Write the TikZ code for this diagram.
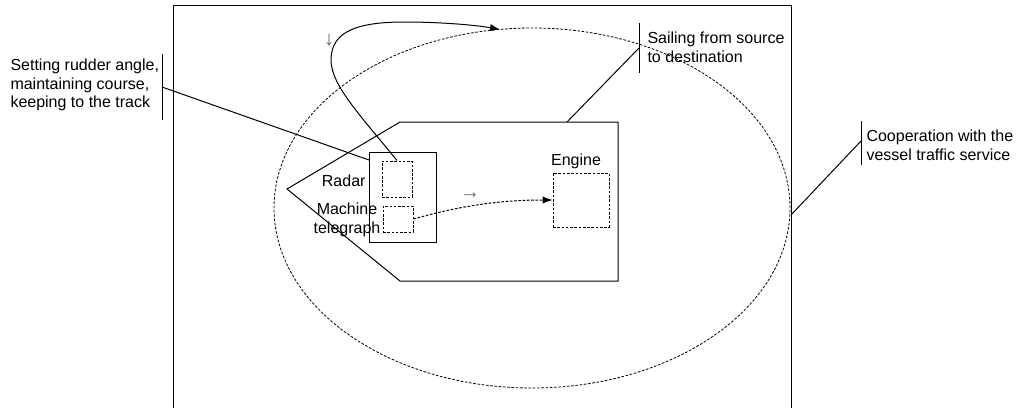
\documentclass[tikz,border=0pt]{standalone}
\usepackage{fontspec}
\setmainfont{Liberation Sans}
\usetikzlibrary{arrows.meta}

\begin{document}
\begin{tikzpicture}[x=0.75pt, y=-0.75pt, line width=0.75pt,
    every node/.style={font=\fontsize{12}{14}\selectfont, inner sep=0pt},
    unit/.style={draw, dashed, dash pattern=on 2pt off 1.2pt},
    callout/.style={anchor=west, align=left},
    flowsign/.style={text=black!60, font=\fontsize{15}{15}\selectfont},
    tip/.style={-{Latex[length=7.5pt, width=5.5pt]}}]
    \useasboundingbox (0,0) rectangle (1016,408);

    % Outer area and traffic service zone
    \draw (173,408) -- (173,5) -- (791,5) -- (791,408);
    \draw[unit, line width=0.6pt] (532,208) ellipse [x radius=193.5pt, y radius=135pt];
    \coordinate (vts top) at (500,29.4);

    % Vessel
    \draw (287,189) -- (400,122) -- (618,122) -- (618,281) -- (400,281) -- cycle;
    \node[draw, minimum width=50.25pt, minimum height=67.5pt] (bridge) at (402.5,197) {};
    \node[unit, minimum width=22.5pt, minimum height=27pt] (radar) at (397,179) {};
    \node[unit, minimum width=22.5pt, minimum height=19.5pt] (telegraph) at (398,219) {};
    \node[unit, minimum width=42pt, minimum height=40.5pt] (engine) at (581,200) {};

    \node[anchor=east] (radar label) at (366,181) {Radar};
    \node[align=center] (telegraph label) at (347,220) {Machine\\telegraph};
    \node (engine label) at (576,161) {Engine};

    % Flows
    \draw[unit, tip] (telegraph.east) .. controls (470,203) and (510,200) .. (engine.west);
    \node[flowsign] (right sign) at (470,196) {→};
    \draw[tip] (radar.north) .. controls (360,115) and (331,85) .. (331,60)
        .. controls (331,30) and (360,22) .. (405,22)
        .. controls (440,22) and (475,25) .. (vts top);
    \node[flowsign] (down sign) at (329,40) {↓};

    % Callouts
    \coordinate (rudder bar) at (162,87);
    \coordinate (rudder pt) at (369,160);
    \draw (162,54) -- (162,120);
    \draw (rudder bar) -- (rudder pt);
    \node[callout] (rudder text) at (10,85) {Setting rudder angle,\\maintaining course,\\keeping to the track};

    \coordinate (sail bar) at (639,48);
    \coordinate (sail pt) at (567,122);
    \draw (639,23) -- (639,73);
    \draw (sail bar) -- (sail pt);
    \node[callout] (sail text) at (647,47) {Sailing from source\\to destination};

    \coordinate (vts bar) at (861,141);
    \coordinate (vts pt) at (791,215);
    \draw (861,121) -- (861,165);
    \draw (vts bar) -- (vts pt);
    \node[callout] (vts text) at (866,145) {Cooperation with the\\vessel traffic service};
\end{tikzpicture}
\end{document}
